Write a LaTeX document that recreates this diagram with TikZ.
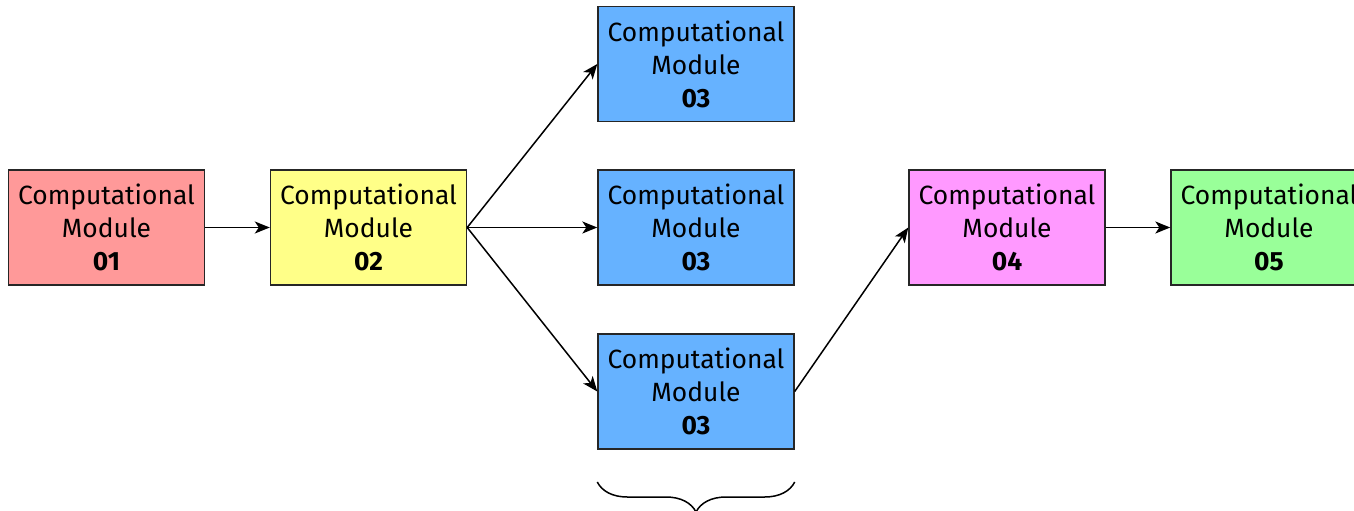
\documentclass[tikz,border=0pt]{standalone}
\usepackage{fontspec}
\setmainfont{Fira Sans}
\usetikzlibrary{arrows.meta,decorations.pathreplacing}
\definecolor{modred}{HTML}{FF9999}
\definecolor{modyellow}{HTML}{FFFF88}
\definecolor{modblue}{HTML}{66B2FF}
\definecolor{modpink}{HTML}{FF99FF}
\definecolor{modgreen}{HTML}{99FF99}
\tikzset{
  module/.style={draw=black!85, line width=1.4pt, minimum width=196pt, minimum height=115pt,
    align=center, inner sep=0pt, font=\fontsize{26.4}{33}\selectfont},
  link/.style={line width=1.5pt, -{Stealth[length=15pt,width=12pt,inset=4pt]}},
}
\begin{document}
\begin{tikzpicture}[x=1pt,y=-1pt]
  \useasboundingbox (0,0) rectangle (1354,511);
  \begin{scope}
  \clip (0,0) rectangle (1354,511);
  \node[module, fill=modred]    (m1)  at (106.5,227.5) {Computational\\Module\\\textbf{01}};
  \node[module, fill=modyellow] (m2)  at (368.5,227.5) {Computational\\Module\\\textbf{02}};
  \node[module, fill=modblue]   (m3a) at (696,64)      {Computational\\Module\\\textbf{03}};
  \node[module, fill=modblue]   (m3b) at (696,227.5)   {Computational\\Module\\\textbf{03}};
  \node[module, fill=modblue]   (m3c) at (696,391.5)   {Computational\\Module\\\textbf{03}};
  \node[module, fill=modpink]   (m4)  at (1007,227.5)  {Computational\\Module\\\textbf{04}};
  \node[module, fill=modgreen]  (m5)  at (1269,227.5)  {Computational\\Module\\\textbf{05}};

  \draw[link] (m1.east) -- (m2.west);
  \draw[link] (m2.east) -- (m3a.west);
  \draw[link] (m2.east) -- (m3b.west);
  \draw[link] (m2.east) -- (m3c.west);
  \draw[link] (m3c.east) -- (m4.west);
  \draw[link] (m4.east) -- (m5.west);

  % brace under the parallel group
  \coordinate (bl) at (m3c.south west |- 0,482);
  \coordinate (br) at (m3c.south east |- 0,482);
  \draw[line width=1.5pt, decorate, decoration={brace, mirror, amplitude=30pt}] (bl) -- (br);
  \end{scope}
\end{tikzpicture}
\end{document}
